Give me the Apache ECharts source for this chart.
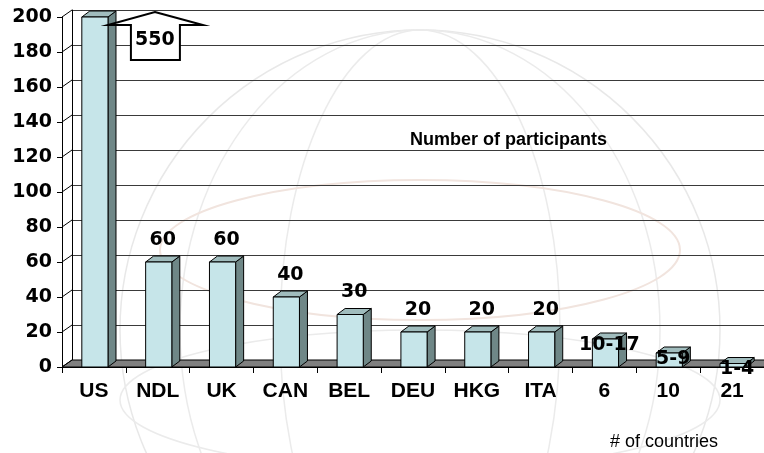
<!DOCTYPE html>
<html><head><meta charset="utf-8">
<script src="https://cdn.jsdelivr.net/npm/echarts@6/dist/echarts.min.js"></script>
<style>html,body{margin:0;padding:0;background:#fff}#c{width:764px;height:453px}</style>
</head><body><div id="c"></div>
<script>
// ---- data ----
const categories = ['US', 'NDL', 'UK', 'CAN', 'BEL', 'DEU', 'HKG', 'ITA', '6', '10', '21'];
const participants = [550, 60, 60, 40, 30, 20, 20, 20, 16, 8, 2];
const valueLabels = ['550', '60', '60', '40', '30', '20', '20', '20', '10-17', '5-9', '1-4'];
const yMin = 0, yMax = 200, yStep = 20;
const chartTitle = 'Number of participants';
const xCaption = '# of countries';

// ---- style ----
const NUM_FONT = '"DejaVu Sans", sans-serif';
const TXT_FONT = '"Liberation Sans", Arial, sans-serif';
const WALL_DX = 10, WALL_DY = -7, BAR_DX = 8, BAR_DY = -6;
const FRONT = '#c6e5e9', SIDE = '#6f8787', TOPC = '#a0bcbd', FLOOR = '#808080';

const chart = echarts.init(document.getElementById('c'), null, {renderer: 'canvas'});

function frameItem(params, api) {
  const cs = params.coordSys;
  const x = cs.x, y = cs.y, w = cs.width, h = cs.height;
  const children = [];
  children.push({type: 'polygon', shape: {points: [[x, y + h], [x + w, y + h], [x + w + WALL_DX, y + h + WALL_DY], [x + WALL_DX, y + h + WALL_DY]]},
    style: {fill: FLOOR, stroke: '#000', lineWidth: 1}});
  for (let v = yMin; v <= yMax; v += yStep) {
    const p = api.coord([0, v]);
    children.push({type: 'line', shape: {x1: x, y1: p[1], x2: x + WALL_DX, y2: p[1] + WALL_DY}, style: {stroke: '#000', lineWidth: 1}});
  }
  return {type: 'group', children};
}

function barItem(params, api) {
  const idx = api.value(0), raw = api.value(1);
  const v = Math.min(raw, yMax);
  const top = api.coord([idx, v]), base = api.coord([idx, yMin]);
  const band = api.size([1, 0])[0];
  const bw = band * 0.41;
  const x0 = top[0] - bw / 2 + 1, x1 = x0 + bw;
  const yt = top[1], yb = base[1];
  const children = [
    {type: 'polygon', shape: {points: [[x1, yt], [x1 + BAR_DX, yt + BAR_DY], [x1 + BAR_DX, yb + BAR_DY], [x1, yb]]}, style: {fill: SIDE, stroke: '#000', lineWidth: 1}},
    {type: 'polygon', shape: {points: [[x0, yt], [x0 + BAR_DX, yt + BAR_DY], [x1 + BAR_DX, yt + BAR_DY], [x1, yt]]}, style: {fill: TOPC, stroke: '#000', lineWidth: 1}},
    {type: 'rect', shape: {x: x0, y: yt, width: bw, height: yb - yt}, style: {fill: FRONT, stroke: '#000', lineWidth: 1}}
  ];
  const label = valueLabels[params.dataIndex];
  const cx = top[0];
  if (raw > yMax) {
    // over-range marker: block arrow carrying the true value
    const pts = [[cx + 61, yt - 5], [cx + 109, yt + 8], [cx + 86, yt + 8], [cx + 86, yt + 43], [cx + 37, yt + 43], [cx + 37, yt + 8], [cx + 14, yt + 8]];
    children.push({type: 'polygon', z2: 10, shape: {points: pts}, style: {fill: '#fff', stroke: '#000', lineWidth: 2}});
    children.push({type: 'text', z2: 11, x: cx + 61, y: yt + 23, style: {text: label, font: 'bold 19px ' + NUM_FONT, fill: '#000', align: 'center', verticalAlign: 'middle'}});
  } else {
    const isRange = label.indexOf('-') > 0;
    const ly = isRange ? yt + 6 : yt - 22;
    children.push({type: 'text', z2: 11, x: x0 + bw / 2 + 4, y: ly, style: {text: label, font: 'bold 19px ' + NUM_FONT, fill: '#000', align: 'center', verticalAlign: 'middle'}});
  }
  return {type: 'group', children};
}

const option = {
  animation: false,
  backgroundColor: '#fff',
  grid: [
    {left: 62, top: 17, width: 703, height: 350},
    {left: 72, top: 10, width: 703, height: 350}
  ],
  xAxis: [
    {type: 'category', gridIndex: 0, data: categories, boundaryGap: true,
      axisLine: {lineStyle: {color: '#000', width: 1}},
      axisTick: {show: true, length: 6, lineStyle: {color: '#000'}},
      axisLabel: {interval: 0, margin: 14, color: '#000', fontFamily: TXT_FONT, fontWeight: 'bold', fontSize: 21},
      splitLine: {show: false}},
    {type: 'category', gridIndex: 1, data: categories, show: false}
  ],
  yAxis: [
    {type: 'value', gridIndex: 0, min: yMin, max: yMax, interval: yStep,
      axisLine: {show: true, lineStyle: {color: '#000', width: 1}},
      axisTick: {show: true, length: 5, lineStyle: {color: '#000'}},
      axisLabel: {margin: 10, color: '#000', fontFamily: NUM_FONT, fontWeight: 'bold', fontSize: 19},
      splitLine: {show: false}},
    {type: 'value', gridIndex: 1, min: yMin, max: yMax, interval: yStep,
      axisLine: {show: true, lineStyle: {color: '#000', width: 1}},
      axisTick: {show: false}, axisLabel: {show: false},
      splitLine: {show: true, lineStyle: {color: '#3a3a3a', width: 1}}}
  ],
  graphic: [
    {type: 'group', silent: true, z: -10, children: [
      {type: 'circle', shape: {cx: 420, cy: 330, r: 300}, style: {fill: 'none', stroke: '#e8e8e8', lineWidth: 1.5}},
      {type: 'ellipse', shape: {cx: 420, cy: 330, rx: 140, ry: 300}, style: {fill: 'none', stroke: '#ebebeb', lineWidth: 1.5}},
      {type: 'ellipse', shape: {cx: 420, cy: 330, rx: 240, ry: 300}, style: {fill: 'none', stroke: '#ebebeb', lineWidth: 1.5}},
      {type: 'ellipse', shape: {cx: 420, cy: 250, rx: 260, ry: 70}, style: {fill: 'none', stroke: '#f1e4de', lineWidth: 2}},
      {type: 'ellipse', shape: {cx: 420, cy: 400, rx: 300, ry: 70}, style: {fill: 'none', stroke: '#ebebeb', lineWidth: 1.5}}
    ]},
    {type: 'text', left: 410, top: 131, z: 50, style: {text: chartTitle, font: 'bold 18px ' + TXT_FONT, fill: '#000'}},
    {type: 'text', left: 610, top: 433, z: 50, style: {text: xCaption, font: '18px ' + TXT_FONT, fill: '#000'}}
  ],
  series: [
    {type: 'custom', name: 'frame', xAxisIndex: 0, yAxisIndex: 0, z: 1, silent: true, clip: false,
      renderItem: frameItem, data: [[0, 0]]},
    {type: 'custom', name: chartTitle, xAxisIndex: 0, yAxisIndex: 0, z: 3, silent: true, clip: false,
      renderItem: barItem, encode: {x: 0, y: 1},
      data: participants.map((v, i) => [i, v])}
  ]
};
chart.setOption(option);
</script>
</body></html>
